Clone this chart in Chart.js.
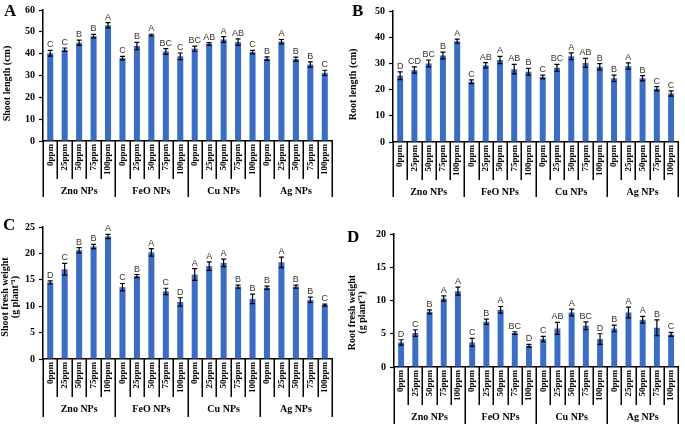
<!DOCTYPE html>
<html>
<head>
<meta charset="utf-8">
<script src="https://cdn.jsdelivr.net/npm/chart.js@4/dist/chart.umd.min.js"></script>
<style>
  body { margin: 0; background: #fff; }
  #wrap { position: relative; width: 685px; height: 424px; overflow: hidden; }
  canvas { position: absolute; }
</style>
</head>
<body>
<div id="wrap">
  <canvas id="panelA" width="340" height="212" style="left:0;top:0"></canvas>
  <canvas id="panelB" width="345" height="212" style="left:340px;top:0"></canvas>
  <canvas id="panelC" width="340" height="212" style="left:0;top:212px"></canvas>
  <canvas id="panelD" width="345" height="212" style="left:340px;top:212px"></canvas>
</div>
<script>
// data
const doses = ["0ppm", "25ppm", "50ppm", "75ppm", "100ppm"];
const groups = ["Zno NPs", "FeO NPs", "Cu NPs", "Ag NPs"];
const categories = [
  "0ppm", "25ppm", "50ppm", "75ppm", "100ppm",
  "0ppm", "25ppm", "50ppm", "75ppm", "100ppm",
  "0ppm", "25ppm", "50ppm", "75ppm", "100ppm",
  "0ppm", "25ppm", "50ppm", "75ppm", "100ppm"
];

const shootLength = [40.2, 41.8, 45.0, 48.0, 53.0, 38.0, 43.5, 48.5, 41.0, 38.8, 42.3, 44.5, 46.5, 45.3, 40.7, 37.7, 45.5, 37.5, 35.0, 31.2];
const shootLengthErr = [1.3, 0.8, 1.2, 0.8, 1.2, 0.8, 1.7, 0.4, 1.3, 1.5, 1.2, 0.6, 1.3, 1.5, 0.8, 0.8, 1.0, 0.9, 1.2, 1.2];
const shootLengthLetters = ["C", "C", "B", "B", "A", "C", "B", "A", "BC", "C", "BC", "AB", "A", "AB", "C", "B", "A", "B", "B", "C"];

const rootLength = [25.3, 27.5, 30.0, 33.0, 38.5, 23.0, 29.3, 31.3, 27.8, 26.8, 24.8, 28.3, 32.7, 30.2, 28.7, 24.3, 29.0, 24.3, 20.3, 18.5];
const rootLengthErr = [1.5, 1.2, 1.3, 1.3, 0.8, 0.7, 1.0, 1.4, 1.8, 1.3, 0.7, 1.3, 1.3, 1.7, 1.2, 1.2, 1.2, 1.0, 0.8, 1.0];
const rootLengthLetters = ["D", "CD", "BC", "B", "A", "C", "AB", "A", "AB", "B", "C", "BC", "A", "AB", "B", "B", "A", "B", "C", "C"];

const shootFresh = [14.5, 17.0, 20.6, 21.3, 23.2, 13.6, 15.7, 20.2, 12.8, 10.8, 16.0, 17.6, 18.2, 13.7, 11.4, 13.5, 18.3, 13.7, 11.2, 10.2];
const shootFreshErr = [0.3, 1.1, 0.5, 0.4, 0.4, 0.7, 0.3, 0.7, 0.6, 0.8, 1.1, 0.8, 0.7, 0.3, 0.9, 0.3, 1.0, 0.3, 0.5, 0.2];
const shootFreshLetters = ["D", "C", "B", "B", "A", "C", "B", "A", "C", "D", "A", "A", "A", "B", "B", "B", "A", "B", "B", "C"];

const rootFresh = [3.7, 5.1, 8.3, 10.3, 11.4, 3.7, 6.8, 8.6, 5.1, 3.2, 4.2, 5.8, 8.2, 6.2, 4.2, 5.8, 8.2, 7.1, 5.9, 4.9];
const rootFreshErr = [0.4, 0.5, 0.3, 0.4, 0.6, 0.6, 0.4, 0.5, 0.2, 0.2, 0.4, 0.9, 0.5, 0.6, 0.8, 0.5, 0.8, 0.5, 1.2, 0.3];
const rootFreshLetters = ["D", "C", "B", "A", "A", "C", "B", "A", "BC", "D", "C", "AB", "A", "BC", "D", "B", "A", "A", "B", "C"];

const BAR = "#3C6DC5";
const SERIF = "'Liberation Serif', 'Times New Roman', serif";

// error bars + significance letters + multi-level axis + titles
const panelPlugin = {
  id: "panelExtras",
  afterDatasetsDraw(chart) {
    const cfg = chart.options.plugins.panelExtras;
    const ctx = chart.ctx;
    const y = chart.scales.y;
    const meta = chart.getDatasetMeta(0);
    const vals = chart.data.datasets[0].data;
    ctx.save();
    ctx.strokeStyle = "#000";
    ctx.lineWidth = 1.2;
    meta.data.forEach((bar, i) => {
      const top = y.getPixelForValue(vals[i] + cfg.err[i]);
      const bot = y.getPixelForValue(vals[i] - cfg.err[i]);
      ctx.beginPath();
      ctx.moveTo(bar.x, top); ctx.lineTo(bar.x, bot);
      ctx.moveTo(bar.x - 2.5, top); ctx.lineTo(bar.x + 2.5, top);
      ctx.moveTo(bar.x - 2.5, bot); ctx.lineTo(bar.x + 2.5, bot);
      ctx.stroke();
      ctx.fillStyle = "#333";
      ctx.font = "9px 'Liberation Sans', Arial, sans-serif";
      ctx.textAlign = "center";
      ctx.textBaseline = "bottom";
      ctx.fillText(cfg.letters[i], bar.x, top - 1);
    });
    ctx.restore();
  },
  afterDraw(chart) {
    const cfg = chart.options.plugins.panelExtras;
    const ctx = chart.ctx;
    const area = chart.chartArea;
    const n = chart.data.labels.length;
    const w = (area.right - area.left) / n;
    ctx.save();
    ctx.strokeStyle = "#000";
    ctx.lineWidth = 1.5;
    for (let i = 0; i <= n; i++) {
      const x = Math.round(area.left + i * w) + 0.25;
      const len = i % doses.length === 0 ? cfg.groupBottom : 38;
      ctx.beginPath();
      ctx.moveTo(x, area.bottom);
      ctx.lineTo(x, area.bottom + len);
      ctx.stroke();
    }
    ctx.fillStyle = "#000";
    ctx.font = "bold 10px " + SERIF;
    ctx.textAlign = "center";
    ctx.textBaseline = "middle";
    groups.forEach((g, k) => {
      const cx = area.left + (k * doses.length + doses.length / 2) * w;
      ctx.fillText(g, cx, area.bottom + 50);
    });
    // panel letter
    ctx.font = "bold 17px " + SERIF;
    ctx.textAlign = "left";
    ctx.textBaseline = "alphabetic";
    ctx.fillText(cfg.tag, cfg.tagX, cfg.tagY);
    // y title
    ctx.font = "bold 10px " + SERIF;
    ctx.textAlign = "center";
    const cy = (area.top + area.bottom) / 2 + cfg.titleShift;
    cfg.title.forEach((line, k) => {
      ctx.save();
      ctx.translate(cfg.titleX + k * 10, cy);
      ctx.rotate(-Math.PI / 2);
      ctx.fillText(line, 0, 0);
      ctx.restore();
    });
    ctx.restore();
  }
};

function makePanel(id, values, err, letters, yMax, yStep, geo, title) {
  const canvas = document.getElementById(id);
  const H = canvas.height, W = canvas.width;
  new Chart(canvas, {
    type: "bar",
    data: {
      labels: categories,
      datasets: [{ data: values, backgroundColor: BAR, barPercentage: 0.42, categoryPercentage: 1 }]
    },
    options: {
      responsive: false,
      animation: false,
      devicePixelRatio: 1,
      layout: { padding: { left: 0, right: W - geo.right, top: geo.top, bottom: 0 } },
      plugins: {
        legend: { display: false },
        tooltip: { enabled: false },
        panelExtras: Object.assign({ err, letters, title }, geo)
      },
      scales: {
        x: {
          afterFit(s) { s.height = H - geo.bottom; },
          grid: { display: true, drawOnChartArea: false, drawTicks: false },
          border: { color: "#000", width: 1.5 },
          ticks: {
            color: "#000", autoSkip: false, minRotation: 90, maxRotation: 90, padding: 3,
            font: { family: SERIF, size: 9, weight: "bold" }
          }
        },
        y: {
          min: 0, max: yMax,
          afterFit(s) { s.width = geo.left; },
          grid: { display: true, drawOnChartArea: false, tickLength: 4, color: "#000", tickWidth: 1.2 },
          border: { color: "#000", width: 1.5 },
          ticks: {
            stepSize: yStep, color: "#000", padding: 4,
            font: { family: SERIF, size: 10, weight: "bold" }
          }
        }
      }
    },
    plugins: [panelPlugin]
  });
}

makePanel("panelA", shootLength, shootLengthErr, shootLengthLetters, 60, 10,
  { left: 43, right: 332, top: 10, bottom: 141, groupBottom: 56, tag: "A", tagX: 4, tagY: 16, titleX: 10, titleShift: 8 },
  ["Shoot length (cm)"]);
makePanel("panelB", rootLength, rootLengthErr, rootLengthLetters, 50, 10,
  { left: 53, right: 340, top: 11, bottom: 142, groupBottom: 55, tag: "B", tagX: 12, tagY: 16, titleX: 16, titleShift: 8 },
  ["Root length (cm)"]);
makePanel("panelC", shootFresh, shootFreshErr, shootFreshLetters, 25, 5,
  { left: 43, right: 332, top: 15, bottom: 147, groupBottom: 58, tag: "C", tagX: 3, tagY: 18, titleX: 8, titleShift: 4 },
  ["Shoot fresh weight", "(g plant\u207B\u00B9)"]);
makePanel("panelD", rootFresh, rootFreshErr, rootFreshLetters, 20, 5,
  { left: 54, right: 341, top: 22, bottom: 155, groupBottom: 57, tag: "D", tagX: 7, tagY: 30, titleX: 15, titleShift: 12 },
  ["Root fresh weight", "(g plant\u207B\u00B9)"]);
</script>
</body>
</html>
